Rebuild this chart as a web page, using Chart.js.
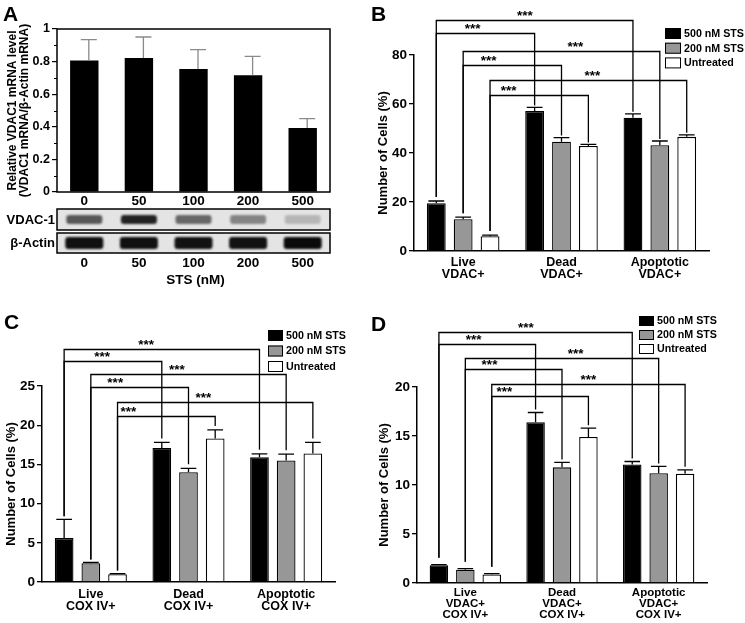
<!DOCTYPE html>
<html><head><meta charset="utf-8">
<script src="https://cdn.jsdelivr.net/npm/chart.js@4.4.1/dist/chart.umd.min.js"></script>
<style>
html,body{margin:0;padding:0;background:#fff;}
#wrap{position:relative;width:745px;height:623px;overflow:hidden;background:#fff;}
canvas{position:absolute;display:block;}
.letter{position:absolute;font:bold 21px/1 "Liberation Sans",Arial,sans-serif;color:#000;}
</style></head><body>
<div id="wrap">
<canvas id="cA" width="372" height="300" style="left:0;top:0"></canvas>
<canvas id="cB" width="373" height="300" style="left:372px;top:0"></canvas>
<canvas id="cC" width="372" height="323" style="left:0;top:300px"></canvas>
<canvas id="cD" width="373" height="323" style="left:372px;top:300px"></canvas>
<div class="letter" style="left:3px;top:3px">A</div>
<div class="letter" style="left:371px;top:3px">B</div>
<div class="letter" style="left:4px;top:311px">C</div>
<div class="letter" style="left:371px;top:313px">D</div>
</div>
<script>
// ---------- data ----------
const doseLabels = ['0', '50', '100', '200', '500'];
const mrnaLevel = [0.806, 0.822, 0.755, 0.716, 0.393];
const mrnaErr = [0.129, 0.129, 0.118, 0.116, 0.057];
const vdacBandDarkness = [0.62, 0.85, 0.55, 0.42, 0.2];
const actinBandDarkness = [0.93, 0.93, 0.92, 0.92, 0.95];

const seriesNames = ['500 nM STS', '200 nM STS', 'Untreated'];

const catsB = [['Live', 'VDAC+'], ['Dead', 'VDAC+'], ['Apoptotic', 'VDAC+']];
const b500 = [19.5, 57.1, 54.4];
const b200 = [13.0, 44.6, 43.2];
const bUnt = [6.0, 42.9, 46.6];
const errB500 = [0.9, 1.5, 1.6];
const errB200 = [0.8, 1.7, 1.7];
const errBUnt = [0.5, 0.6, 0.8];

const catsC = [['Live', 'COX IV+'], ['Dead', 'COX IV+'], ['Apoptotic', 'COX IV+']];
const c500 = [5.6, 17.1, 15.9];
const c200 = [2.4, 14.0, 15.5];
const cUnt = [1.0, 18.3, 16.4];
const errC500 = [2.4, 0.7, 0.45];
const errC200 = [0.1, 0.5, 0.8];
const errCUnt = [0.08, 1.1, 1.4];

const catsD = [['Live', 'VDAC+', 'COX IV+'], ['Dead', 'VDAC+', 'COX IV+'], ['Apoptotic', 'VDAC+', 'COX IV+']];
const d500 = [1.8, 16.4, 12.1];
const d200 = [1.36, 11.8, 11.2];
const dUnt = [0.88, 14.9, 11.15];
const errD500 = [0.07, 1.0, 0.3];
const errD200 = [0.1, 0.5, 0.7];
const errDUnt = [0.07, 0.9, 0.4];

// significance brackets: [fromCategory, fromSeries, toCategory, toSeries]
const bracketPairs = [[0, 0, 2, 0], [0, 0, 1, 0], [0, 1, 2, 1], [0, 1, 1, 1], [0, 2, 2, 2], [0, 2, 1, 2]];
const bracketLevelB = [94.3, 89.0, 81.6, 75.9, 69.8, 63.7];
const bracketLevelC = [29.7, 28.2, 26.5, 24.9, 23.0, 21.2];
const bracketLevelD = [25.6, 24.4, 23.0, 21.8, 20.3, 19.1];
const sigText = '***';

// ---------- styling ----------
const FONT = '"Liberation Sans", Arial, Helvetica, sans-serif';
Chart.defaults.font.family = FONT;
Chart.defaults.color = '#000';
const seriesColors = ['#000000', '#979797', '#ffffff'];

// ---------- Panel A ----------
new Chart(document.getElementById('cA'), {
  type: 'bar',
  data: {
    labels: doseLabels,
    datasets: [{ data: mrnaLevel, backgroundColor: '#000', borderColor: '#000', borderWidth: 0,
      barPercentage: 0.52, categoryPercentage: 1 }]
  },
  options: {
    responsive: false, animation: false,
    layout: { padding: { top: 29, right: 42, left: 0, bottom: 0 } },
    plugins: { legend: { display: false }, tooltip: { enabled: false } },
    scales: {
      x: {
        grid: { display: false, drawTicks: false }, border: { display: false },
        ticks: { color: '#000', font: { size: 13.5, weight: 'bold', lineHeight: 1 }, padding: 3, maxRotation: 0 },
        afterFit: s => { s.height = 108; }
      },
      y: {
        min: 0, max: 1,
        ticks: { stepSize: 0.2, color: '#000', font: { size: 12.5, weight: 'bold' }, padding: 2,
          callback: v => (Math.abs(v) < 1e-9 ? '0' : Math.abs(v - 1) < 1e-9 ? '1' : v.toFixed(1)) },
        grid: { drawOnChartArea: false, color: '#000', lineWidth: 1.2, tickLength: 5 },
        border: { display: false },
        title: { display: true, text: ['Relative VDAC1 mRNA level', '(VDAC1 mRNA/\u03B2-Actin mRNA)'],
          color: '#000', font: { size: 12, weight: 'bold', lineHeight: 1.05 }, padding: { top: 6, bottom: 0 } },
        afterFit: s => { s.width = 57; }
      }
    }
  },
  plugins: [{
    id: 'panelA',
    afterDatasetsDraw(chart) {
      const { ctx, scales: { y } } = chart;
      const meta = chart.getDatasetMeta(0);
      ctx.save();
      ctx.strokeStyle = '#8a8a8a'; ctx.lineWidth = 1.3;
      meta.data.forEach((bar, i) => {
        const ex = bar.x + 4.5;
        const top = y.getPixelForValue(mrnaLevel[i] + mrnaErr[i]);
        ctx.beginPath();
        ctx.moveTo(ex, bar.y); ctx.lineTo(ex, top);
        ctx.moveTo(ex - 8, top); ctx.lineTo(ex + 8, top);
        ctx.stroke();
      });
      ctx.restore();
    },
    afterDraw(chart) {
      const { ctx, chartArea: ca, scales: { x, y } } = chart;
      ctx.save();
      ctx.strokeStyle = '#000'; ctx.lineWidth = 1.5;
      ctx.strokeRect(ca.left, ca.top, ca.right - ca.left, ca.bottom - ca.top);
      ctx.lineWidth = 1;
      [0.1, 0.3, 0.5, 0.7, 0.9].forEach(v => {
        const py = Math.round(y.getPixelForValue(v)) + 0.5;
        ctx.beginPath(); ctx.moveTo(ca.left - 3, py); ctx.lineTo(ca.left, py); ctx.stroke();
      });
      const L = ca.left, R = ca.right;
      const rows = [
        { top: 209, h: 21, name: 'VDAC-1', dark: vdacBandDarkness, bh: 9, bw: 36 },
        { top: 233, h: 20, name: '\u03B2-Actin', dark: actinBandDarkness, bh: 12, bw: 38 }
      ];
      rows.forEach(r => {
        ctx.fillStyle = '#e4e4e4';
        ctx.fillRect(L, r.top, R - L, r.h);
        ctx.save();
        ctx.beginPath(); ctx.rect(L, r.top, R - L, r.h); ctx.clip();
        ctx.filter = 'blur(1.3px)';
        r.dark.forEach((d, i) => {
          const cx = x.getPixelForValue(i);
          const g = Math.round(228 * (1 - d));
          ctx.fillStyle = `rgb(${g},${g},${g})`;
          ctx.beginPath();
          ctx.roundRect(cx - r.bw / 2, r.top + r.h / 2 - r.bh / 2, r.bw, r.bh, 3);
          ctx.fill();
        });
        ctx.restore();
        ctx.strokeStyle = '#000'; ctx.lineWidth = 1.5;
        ctx.strokeRect(L, r.top, R - L, r.h);
        ctx.fillStyle = '#000';
        ctx.font = `bold 13px ${FONT}`;
        ctx.textAlign = 'right'; ctx.textBaseline = 'middle';
        ctx.fillText(r.name, L - 2, r.top + r.h / 2 + 0.5);
      });
      ctx.font = `bold 13.5px ${FONT}`;
      ctx.textAlign = 'center'; ctx.textBaseline = 'middle';
      doseLabels.forEach((lab, i) => ctx.fillText(lab, x.getPixelForValue(i), 263));
      ctx.fillText('STS (nM)', (L + R) / 2 + 2, 280);
      ctx.restore();
    }
  }]
});

// ---------- Panels B, C, D ----------
function buildPanel(id, cats, vals, errs, levels, cfg) {
  return new Chart(document.getElementById(id), {
    type: 'bar',
    data: {
      labels: cats,
      datasets: seriesNames.map((n, i) => ({
        label: n, data: vals[i], backgroundColor: seriesColors[i], borderColor: '#000', borderWidth: 1.3,
        borderSkipped: 'bottom', categoryPercentage: 0.82, barPercentage: 0.7
      }))
    },
    options: {
      responsive: false, animation: false,
      layout: { padding: { top: cfg.top, right: cfg.right, left: 0, bottom: 0 } },
      plugins: { legend: { display: false }, tooltip: { enabled: false } },
      scales: {
        x: {
          grid: { display: false, drawTicks: false }, border: { color: '#000', width: 1.5 },
          ticks: { color: '#000', font: { size: cfg.xfs, weight: 'bold', lineHeight: cfg.lh }, padding: cfg.xpad, maxRotation: 0, autoSkip: false },
          afterFit: s => { s.height = cfg.xh; }
        },
        y: {
          min: 0, max: cfg.max,
          ticks: { stepSize: cfg.step, color: '#000', font: { size: 13.5, weight: 'bold' }, padding: 2 },
          grid: { drawOnChartArea: false, color: '#000', lineWidth: 1.3, tickLength: 5 },
          border: { color: '#000', width: 1.5 },
          title: { display: true, text: 'Number of Cells (%)', color: '#000', font: { size: 13, weight: 'bold', lineHeight: 1.2 }, padding: { top: cfg.tpad, bottom: 0 } },
          afterFit: s => { s.width = cfg.yw; }
        }
      }
    },
    plugins: [{
      id: 'annot_' + id,
      afterDatasetsDraw(chart) {
        const { ctx, scales: { y } } = chart;
        ctx.save();
        ctx.strokeStyle = '#000'; ctx.lineWidth = 1.3;
        vals.forEach((series, i) => {
          const meta = chart.getDatasetMeta(i);
          meta.data.forEach((bar, j) => {
            const top = y.getPixelForValue(series[j] + errs[i][j]);
            const cw = bar.width * 0.42;
            ctx.beginPath();
            ctx.moveTo(bar.x, bar.y); ctx.lineTo(bar.x, top);
            ctx.moveTo(bar.x - cw, top); ctx.lineTo(bar.x + cw, top);
            ctx.stroke();
          });
        });
        bracketPairs.forEach((p, k) => {
          const a = chart.getDatasetMeta(p[1]).data[p[0]];
          const b = chart.getDatasetMeta(p[3]).data[p[2]];
          const yl = Math.round(y.getPixelForValue(levels[k])) + 0.5;
          const y1 = y.getPixelForValue(vals[p[1]][p[0]] + errs[p[1]][p[0]]) - cfg.gapL;
          const y2 = y.getPixelForValue(vals[p[3]][p[2]] + errs[p[3]][p[2]]) - cfg.gapR;
          ctx.lineWidth = 1.3; ctx.strokeStyle = '#000';
          ctx.beginPath();
          ctx.moveTo(a.x, y1); ctx.lineTo(a.x, yl); ctx.lineTo(b.x, yl); ctx.lineTo(b.x, y2);
          ctx.stroke();
          ctx.fillStyle = '#000';
          ctx.font = `bold 13.5px ${FONT}`;
          ctx.textAlign = 'center'; ctx.textBaseline = 'alphabetic';
          ctx.fillText(sigText, a.x + (b.x - a.x) * cfg.starFrac[k], yl - 0.5);
        });
        ctx.font = `bold 10.7px ${FONT}`;
        ctx.textAlign = 'left'; ctx.textBaseline = 'middle';
        seriesNames.forEach((n, i) => {
          const ty = cfg.leg.y + i * cfg.leg.step;
          ctx.fillStyle = seriesColors[i];
          ctx.fillRect(cfg.leg.x, ty, cfg.leg.w, cfg.leg.h);
          ctx.lineWidth = 1; ctx.strokeStyle = '#000';
          ctx.strokeRect(cfg.leg.x + 0.5, ty + 0.5, cfg.leg.w - 1, cfg.leg.h - 1);
          ctx.fillStyle = '#000';
          ctx.fillText(n, cfg.leg.x + cfg.leg.w + 3, ty + cfg.leg.h / 2 + 0.5);
        });
        ctx.restore();
      }
    }]
  });
}

buildPanel('cB', catsB, [b500, b200, bUnt], [errB500, errB200, errBUnt], bracketLevelB, {
  top: 55, right: 36, yw: 42, xh: 49, max: 80, step: 20, xfs: 12.5, lh: 1.0, xpad: 5, tpad: 4, gapL: 4, gapR: 2,
  starFrac: [0.45, 0.37, 0.57, 0.26, 0.52, 0.19],
  leg: { x: 293, y: 28, w: 16, h: 11, step: 14.7 }
});
buildPanel('cC', catsC, [c500, c200, cUnt], [errC500, errC200, errCUnt], bracketLevelC, {
  top: 86, right: 37, yw: 42, xh: 41, max: 25, step: 5, xfs: 12.5, lh: 1.0, xpad: 6, tpad: 4, gapL: 3, gapR: 4,
  starFrac: [0.42, 0.39, 0.44, 0.25, 0.44, 0.11],
  leg: { x: 268, y: 30, w: 15, h: 11, step: 15.5 }
});
buildPanel('cD', catsD, [d500, d200, dUnt], [errD500, errD200, errDUnt], bracketLevelD, {
  top: 87, right: 38, yw: 45, xh: 40, max: 20, step: 5, xfs: 11.5, lh: 0.92, xpad: 5, tpad: 5, gapL: 7, gapR: 3,
  starFrac: [0.45, 0.36, 0.57, 0.25, 0.5, 0.13],
  leg: { x: 267, y: 16, w: 15, h: 10, step: 14 }
});
</script>
</body></html>
